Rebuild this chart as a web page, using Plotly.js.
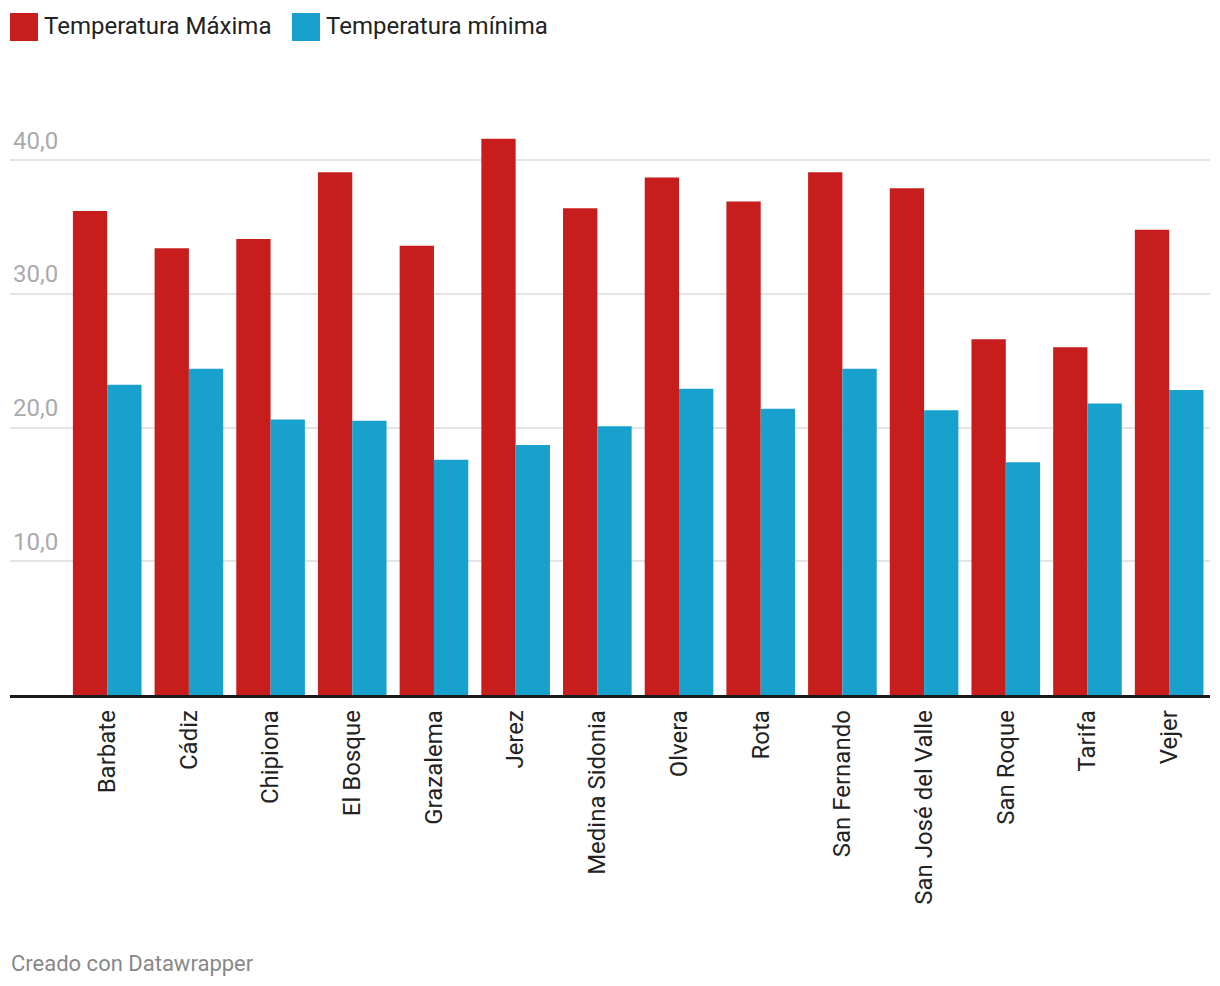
<!DOCTYPE html>
<html>
<head>
<meta charset="utf-8">
<script src="https://cdn.plot.ly/plotly-3.0.1.min.js"></script>
<style>html,body{margin:0;padding:0;background:#fff;}#chart{width:1220px;height:986px;}</style>
</head>
<body>
<div id="chart"></div>
<script>
const categories = ["Barbate","Cádiz","Chipiona","El Bosque","Grazalema","Jerez","Medina Sidonia","Olvera","Rota","San Fernando","San José del Valle","San Roque","Tarifa","Vejer"];
const tempMax = [36.2,33.4,34.1,39.1,33.6,41.6,36.4,38.7,36.9,39.1,37.9,26.6,26.0,34.8];
const tempMin = [23.2,24.4,20.6,20.5,17.6,18.7,20.1,22.9,21.4,24.4,21.3,17.4,21.8,22.8];
const seriesNames = ["Temperatura Máxima","Temperatura mínima"];
const seriesColors = ["#c71e1d","#18a1cd"];
const yTicks = [10,20,30,40];
const footer = "Creado con Datawrapper";

const W = 1220, H = 986;
const M = {l:10, r:10, t:120, b:291};
const pw = W - M.l - M.r, ph = H - M.t - M.b;
const px = x => (x - M.l) / pw;
const py = y => (H - M.b - y) / ph;

const traces = [
  {type:"bar", x:categories, y:tempMax, name:seriesNames[0], marker:{color:seriesColors[0]}, hoverinfo:"y"},
  {type:"bar", x:categories, y:tempMin, name:seriesNames[1], marker:{color:seriesColors[1]}, hoverinfo:"y"}
];

const shapes = [], annotations = [];
const legendX = [10, 292];
seriesNames.forEach((n,i)=>{
  shapes.push({type:"rect", xref:"paper", yref:"paper", x0:px(legendX[i]), x1:px(legendX[i]+28), y0:py(41), y1:py(13), fillcolor:seriesColors[i], line:{width:0}});
  annotations.push({xref:"paper", yref:"paper", x:px(legendX[i]+32), y:py(26), xanchor:"left", yanchor:"middle", text:n, showarrow:false, font:{family:"Roboto", size:24, color:"#222"}});
});
annotations.push({xref:"paper", yref:"paper", x:px(9), y:py(963), xanchor:"left", yanchor:"middle", text:footer, showarrow:false, font:{family:"Roboto", size:22, color:"#888"}});

const layout = {
  width:W, height:H, margin:M, paper_bgcolor:"#fff", plot_bgcolor:"#fff",
  barmode:"group", bargap:0.16, bargroupgap:0, showlegend:false,
  separators:",.",
  font:{family:"Roboto", color:"#333"},
  xaxis:{type:"category", range:[-1.19,13.5], showgrid:false, ticks:"", tickangle:-90,
    tickfont:{family:"Roboto", size:24, color:"#222"}, showline:true, linecolor:"#1a1a1a", linewidth:2.5,
    ticklabelstandoff:3, fixedrange:true},
  yaxis:{range:[0,43], tickvals:yTicks, tickformat:".1f", showgrid:true, gridcolor:"#e4e4e4", gridwidth:2,
    zeroline:false, showline:false, ticks:"", ticklabelposition:"inside top", ticklabelshift:-3,
    tickfont:{family:"Roboto", size:24, color:"#aaa"}, fixedrange:true},
  shapes, annotations
};
Plotly.newPlot("chart", traces, layout, {displayModeBar:false, staticPlot:true});
</script>
</body>
</html>
